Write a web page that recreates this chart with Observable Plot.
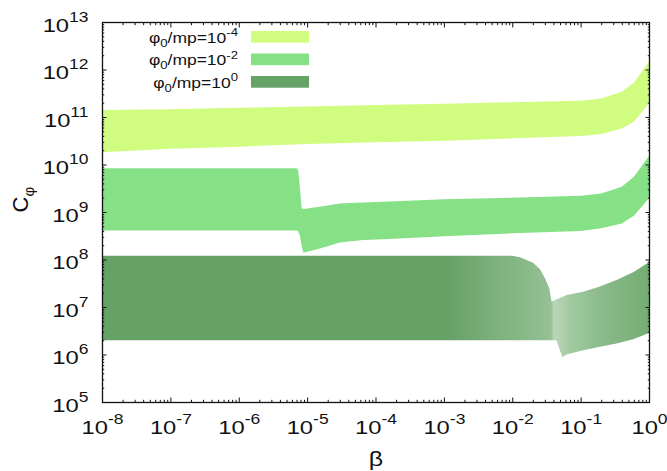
<!DOCTYPE html>
<html><head><meta charset="utf-8">
<script src="https://cdn.jsdelivr.net/npm/d3@7"></script>
<script src="https://cdn.jsdelivr.net/npm/@observablehq/plot@0.6"></script>
<style>body{margin:0;background:#fff}svg{display:block}</style>
</head><body><div id="chart"></div>
<script>
// ---- data ----
const band1Beta = [1e-8, 1e-7, 1e-6, 1e-5, 1e-4, 1e-3, 1e-2, 1e-1, 0.2, 0.4, 0.6, 1];
const band1Hi = [1.40e11, 1.45e11, 1.57e11, 1.66e11, 1.78e11, 1.91e11, 2.04e11, 2.19e11, 2.45e11, 3.39e11, 5.25e11, 1.45e12];
const band1Lo = [1.82e10, 2.14e10, 2.37e10, 2.69e10, 2.95e10, 3.16e10, 3.55e10, 3.98e10, 4.37e10, 5.75e10, 7.94e10, 1.95e11];

const band2Beta = [1e-8, 1e-7, 1e-6, 3e-6, 7.0e-6, 7.4e-6, 7.85e-6, 8.3e-6, 8.8e-6, 1.54e-5, 3.0e-5, 6.6e-5, 1.6e-4, 1e-3, 1e-2, 1e-1, 0.2, 0.4, 0.6, 1];
const band2Hi = [8.3e9, 8.3e9, 8.3e9, 8.3e9, 8.3e9, 7.6e9, 3.2e9, 1.2e9, 1.15e9, 1.29e9, 1.51e9, 1.58e9, 1.66e9, 1.86e9, 2.0e9, 2.19e9, 2.45e9, 3.39e9, 5.5e9, 1.51e10];
const band2Lo = [4.1e8, 4.1e8, 4.1e8, 4.1e8, 4.1e8, 4.0e8, 3.16e8, 2.0e8, 1.38e8, 1.70e8, 2.29e8, 2.57e8, 2.69e8, 3.09e8, 3.55e8, 3.98e8, 4.57e8, 5.75e8, 8.32e8, 1.95e9];

const band3Beta = [1e-8, 1e-7, 1e-6, 1e-5, 1e-4, 1e-3, 1e-2, 0.0129, 0.0202, 0.0254, 0.030, 0.0347, 0.0376, 0.0445, 0.0497, 0.0543, 0.0622, 0.109, 0.191, 0.335, 0.586, 0.918, 1];
const band3Hi = [1.2e8, 1.2e8, 1.2e8, 1.2e8, 1.2e8, 1.2e8, 1.2e8, 1.12e8, 8.5e7, 6.2e7, 4.1e7, 2.5e7, 1.29e7, 1.45e7, 1.55e7, 1.62e7, 1.78e7, 2.09e7, 2.69e7, 3.72e7, 5.37e7, 8.13e7, 8.9e7];
const band3Lo = [2.0e6, 2.0e6, 2.0e6, 2.0e6, 2.0e6, 2.0e6, 2.0e6, 2.0e6, 2.0e6, 2.0e6, 2.0e6, 2.0e6, 2.0e6, 2.0e6, 1.23e6, 8.9e5, 1.0e6, 1.23e6, 1.45e6, 1.70e6, 2.09e6, 2.69e6, 2.82e6];

const legendExponents = ["-4", "-2", "0"];
const xTickExponents = [-8, -7, -6, -5, -4, -3, -2, -1, 0];
const yTickExponents = [5, 6, 7, 8, 9, 10, 11, 12, 13];

// ---- styling ----
const FONT = "'Liberation Sans', Arial, Helvetica, sans-serif";
const colors = ["#d0fc80", "#86e086", "#66a166"];
const band3Stops = [[0, "#66a166"], [0.63, "#66a166"], [0.66, "#6ea66e"], [0.72, "#7db17d"], [0.78, "#8aba8a"], [0.821, "#96c196"], [0.826, "#b8d6b8"], [0.86, "#a0c9a0"], [0.92, "#88b988"], [1, "#74ad74"]];
const STRETCH = 1.25;

const rows = (beta, lo, hi) => beta.map((b, i) => ({beta: b, lo: lo[i], hi: hi[i]}));
const xMajor = xTickExponents.map(e => 10 ** e);
const yMajor = yTickExponents.map(e => 10 ** e);
const minorOf = exps => exps.slice(0, -1).flatMap(e => d3.range(2, 10).map(k => k * 10 ** e));
const xMinor = minorOf(xTickExponents);
const yMinor = minorOf(yTickExponents);
const expFmt = d => `10^${Math.round(Math.log10(d))}`;
const blank = () => "";

const defsMark = () => {
  const defs = d3.create("svg:defs");
  const lg = defs.append("linearGradient").attr("id", "band3grad")
    .attr("x1", 0).attr("x2", 1).attr("y1", 0).attr("y2", 0);
  band3Stops.forEach(([o, c]) => lg.append("stop").attr("offset", o).attr("stop-color", c));
  return defs.node();
};

const legendMark = (index, scales, values, dims) => {
  const g = d3.create("svg:g").attr("class", "legend").attr("font-family", FONT);
  legendExponents.forEach((e, i) => {
    const yb = dims.marginTop + 20.7 + i * 22.5;
    g.append("rect").attr("x", dims.marginLeft + 149).attr("y", yb - 11.7)
      .attr("width", 58).attr("height", 11.7).attr("fill", colors[i]);
    const t = g.append("text").attr("x", dims.marginLeft + 136).attr("y", yb)
      .attr("text-anchor", "end").attr("font-size", 14).attr("fill", "#111");
    t.append("tspan").text("φ");
    t.append("tspan").attr("dy", 4).attr("font-size", 10.5).text("0");
    t.append("tspan").attr("dy", -4).text("/mp=10");
    t.append("tspan").attr("dy", -6.5).attr("font-size", 10.5).text(e);
  });
  return g.node();
};

const tickAxes = [];
for (const a of ["bottom", "top"]) {
  tickAxes.push(Plot.axisX(xMajor, {anchor: a, tickSize: -4.5, tickFormat: blank, label: null}));
  tickAxes.push(Plot.axisX(xMinor, {anchor: a, tickSize: -2.2, tickFormat: blank, label: null}));
}
for (const a of ["left", "right"]) {
  tickAxes.push(Plot.axisY(yMajor, {anchor: a, tickSize: -4.5, tickFormat: blank, label: null}));
  tickAxes.push(Plot.axisY(yMinor, {anchor: a, tickSize: -2.2, tickFormat: blank, label: null}));
}

const plot = Plot.plot({
  width: 667, height: 471,
  marginLeft: 102, marginRight: 18, marginTop: 22, marginBottom: 69,
  style: {fontFamily: FONT, background: "#fff", color: "#111"},
  x: {type: "log", domain: [1e-8, 1], label: null},
  y: {type: "log", domain: [1e5, 1e13], label: null},
  marks: [
    defsMark,
    Plot.areaY(rows(band1Beta, band1Lo, band1Hi), {x: "beta", y1: "lo", y2: "hi", fill: colors[0]}),
    Plot.areaY(rows(band2Beta, band2Lo, band2Hi), {x: "beta", y1: "lo", y2: "hi", fill: colors[1]}),
    Plot.areaY(rows(band3Beta, band3Lo, band3Hi), {x: "beta", y1: "lo", y2: "hi", fill: "url(#band3grad)"}),
    ...tickAxes,
    Plot.frame({stroke: "#111", strokeWidth: 1.3}),
    Plot.axisX(xMajor, {anchor: "bottom", tickSize: 0, tickPadding: 18, fontSize: 19, tickFormat: expFmt, label: null}),
    Plot.axisY(yMajor, {anchor: "left", tickSize: 0, tickPadding: 14, fontSize: 19, dy: 3, tickFormat: expFmt, label: null}),
    Plot.text(["β"], {text: d => d, frameAnchor: "bottom", dy: 57, fontSize: 20, lineAnchor: "middle", className: "xlab"}),
    Plot.text(["Cφ"], {text: d => d, frameAnchor: "left", dx: -82, rotate: -90, fontSize: 22, lineAnchor: "middle", className: "ylab"}),
    legendMark
  ]
});
document.getElementById("chart").appendChild(plot);

const svg = d3.select(plot);
// superscripts on tick labels
svg.selectAll('g[aria-label="x-axis tick label"] text, g[aria-label="y-axis tick label"] text').each(function () {
  const s = this.textContent;
  if (!s.includes("^")) return;
  const [base, exp] = s.split("^");
  const t = d3.select(this).text(null);
  t.append("tspan").text(base);
  t.append("tspan").attr("dy", -10).attr("font-size", 14).text(exp);
});
// subscript on C_phi
svg.selectAll(".ylab text").each(function () {
  const t = d3.select(this).text(null);
  t.append("tspan").text("C");
  t.append("tspan").attr("dy", 6).attr("font-size", 15).text("φ");
});
// horizontal stretch of the (wide) reference lettering
function stretch(el, sx, sy) {
  const tr = el.getAttribute("transform") || "";
  const x = +el.getAttribute("x") || 0, y = +el.getAttribute("y") || 0;
  el.setAttribute("transform", `${tr} translate(${x},${y}) scale(${sx},${sy}) translate(${-x},${-y})`);
}
svg.selectAll('g[aria-label="x-axis tick label"] text, g[aria-label="y-axis tick label"] text, .legend text, .xlab text')
  .each(function () { stretch(this, STRETCH, 1); });
</script>
</body></html>
